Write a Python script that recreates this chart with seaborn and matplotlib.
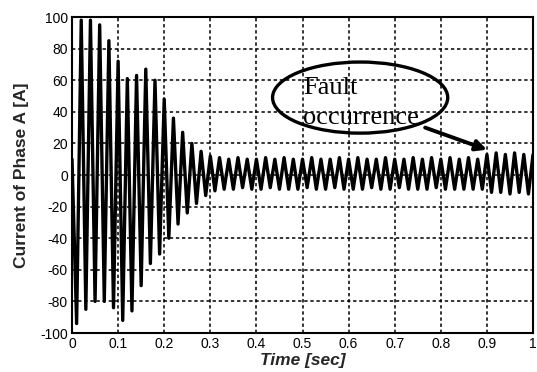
import numpy as np
import pandas as pd
import matplotlib
matplotlib.use("Agg")
import matplotlib.pyplot as plt
from matplotlib.patches import Ellipse
import seaborn as sns

# Phase-A current extremes, one value per half cycle of the 50 Hz supply [A]
current_peaks = [
    10, -94, 98, -85, 98, -80, 95, -80, 85, -84,
    72, -92, 61, -86, 63, -70, 67, -56, 60, -50,
    48, -40, 36, -31, 27, -24, 20, -18, 15, -13,
    12, -10, 11, -9, 10, -9, 11, -8, 10, -9,
    10, -9, 11, -8, 10, -9, 11, -9, 10, -9,
    10, -8, 11, -9, 10, -9, 10, -8, 11, -9,
    10, -9, 11, -9, 10, -8, 10, -9, 11, -9,
    10, -8, 10, -9, 11, -9, 10, -9, 11, -8,
    10, -9, 11, -9, 10, -9, 11, -9, 10, -9,
    13, -11, 14, -11, 13, -12, 14, -11, 13, -12,
    13,
]
half_cycle_s = 0.01
time_s = np.arange(len(current_peaks)) * half_cycle_s

x_ticks = [0, 0.1, 0.2, 0.3, 0.4, 0.5, 0.6, 0.7, 0.8, 0.9, 1.0]
x_tick_labels = ["0", "0.1", "0.2", "0.3", "0.4", "0.5", "0.6", "0.7", "0.8", "0.9", "1"]
y_ticks = [-100, -80, -60, -40, -20, 0, 20, 40, 60, 80, 100]
y_tick_labels = ["-100", "-80", "-60", "-40", "-20", "0", "20", "40", "60", "80", "100"]

df = pd.DataFrame({"time": time_s, "current": current_peaks})

sns.set_style("white")
plt.rcParams["font.family"] = ["Liberation Sans", "DejaVu Sans"]

fig = plt.figure(figsize=(5.37, 3.72), dpi=100)
ax = fig.add_axes([0.1341, 0.1048, 0.8585, 0.8495])

sns.lineplot(data=df, x="time", y="current", color="black", linewidth=2.4,
             estimator=None, sort=False, ax=ax)

ax.set_xlim(0, 1)
ax.set_ylim(-100, 100)
ax.set_xticks(x_ticks)
ax.set_xticklabels(x_tick_labels)
ax.set_yticks(y_ticks)
ax.set_yticklabels(y_tick_labels)
ax.set_axisbelow(True)
ax.grid(True, color="black", linestyle=(0, (2.2, 1.8)), linewidth=1.1)
for sp in ax.spines.values():
    sp.set_color("black")
    sp.set_linewidth(1.5)
ax.tick_params(direction="in", length=4, width=1, labelsize=10, colors="black",
               pad=3)

ax.set_xlabel("Time [sec]", fontsize=12.5, fontweight="bold", fontstyle="italic",
              labelpad=1)
ax.set_ylabel("Current of Phase A [A]", fontsize=12.5, fontweight="bold",
              labelpad=8)

# Callout marking the fault instant
ax.add_patch(Ellipse((0.625, 49), 0.38, 45, fill=False, edgecolor="black",
                     linewidth=2.4))
ax.text(0.501, 51, "Fault", family="Liberation Serif", fontsize=19,
        va="baseline", ha="left", color="black")
ax.text(0.501, 32, "occurrence", family="Liberation Serif", fontsize=19,
        va="baseline", ha="left", color="black")
ax.annotate("", xy=(0.90, 16), xytext=(0.766, 30),
            arrowprops=dict(arrowstyle="-|>", color="black", lw=2.8,
                            mutation_scale=16, shrinkA=0, shrinkB=0))

fig.savefig("out.png", dpi=100)
